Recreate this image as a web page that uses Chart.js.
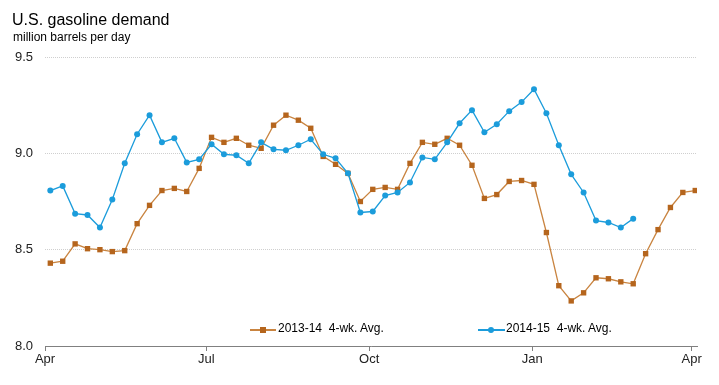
<!DOCTYPE html>
<html>
<head>
<meta charset="utf-8">
<script src="https://cdn.jsdelivr.net/npm/chart.js@4"></script>
<style>
body { margin: 0; background: #fff; font-family: "Liberation Sans", Arial, sans-serif; color: #000; }
#wrap { position: relative; width: 719px; height: 385px; }
#title { position: absolute; left: 12px; top: 12px; font-size: 16px; line-height: 16px; }
#sub { position: absolute; left: 13px; top: 31px; font-size: 12px; line-height: 12px; }
.leg { position: absolute; top: 322px; font-size: 12px; line-height: 12px; white-space: pre; }
.ln { position: absolute; height: 2px; top: 329px; }
.mk { position: absolute; }
</style>
</head>
<body>
<div id="wrap">
  <canvas id="chart"></canvas>
  <div id="title">U.S. gasoline demand</div>
  <div id="sub">million barrels per day</div>
  <div class="ln" style="left:250px;width:26px;background:#C98440"></div>
  <div class="mk" style="left:260px;top:327px;width:6px;height:6px;background:#B5651D"></div>
  <div class="leg" style="left:278px">2013-14  4-wk. Avg.</div>
  <div class="ln" style="left:478px;width:27px;background:#1B9CDB"></div>
  <div class="mk" style="left:488px;top:327px;width:6px;height:6px;border-radius:50%;background:#1B9CDB"></div>
  <div class="leg" style="left:506px">2014-15  4-wk. Avg.</div>
</div>
<script>
// days counted from April 1
const tickDays = [0, 91, 183, 275, 365];
const tickLabels = ["Apr", "Jul", "Oct", "Jan", "Apr"];

const avg1314 = [8.43, 8.44, 8.53, 8.505, 8.50, 8.49, 8.495, 8.635, 8.73, 8.807,
  8.818, 8.802, 8.922, 9.083, 9.057, 9.078, 9.042, 9.026, 9.146, 9.198,
  9.172, 9.13, 8.984, 8.943, 8.896, 8.75, 8.813, 8.823, 8.813, 8.948,
  9.057, 9.047, 9.078, 9.042, 8.938, 8.766, 8.786, 8.854, 8.859, 8.839,
  8.589, 8.313, 8.234, 8.276, 8.354, 8.349, 8.333, 8.323, 8.479, 8.604,
  8.719, 8.797, 8.807];

const avg1415 = [8.807, 8.831, 8.687, 8.68, 8.615, 8.76, 8.948, 9.099, 9.198, 9.057,
  9.078, 8.953, 8.969, 9.047, 8.995, 8.99, 8.948, 9.057, 9.021, 9.016,
  9.042, 9.073, 8.995, 8.974, 8.896, 8.693, 8.698, 8.781, 8.797, 8.849,
  8.979, 8.969, 9.057, 9.156, 9.224, 9.109, 9.151, 9.219, 9.266, 9.333,
  9.208, 9.042, 8.891, 8.797, 8.651, 8.641, 8.615, 8.661];

// weekly points, first week ending Apr 4
function toPoints(values) {
    return values.map((v, i) => ({ x: 3 + 7 * i, y: v }));
}

new Chart("chart", {
    type: "line",
    data: {
        datasets: [
            {
                label: "2013-14  4-wk. Avg.",
                data: toPoints(avg1314),
                borderColor: "#C98440",
                backgroundColor: "#B5651D",
                borderWidth: 1.3,
                pointStyle: "rect",
                pointRadius: 3.8,
                pointBorderWidth: 0,
                tension: 0,
                order: 2,
            },
            {
                label: "2014-15  4-wk. Avg.",
                data: toPoints(avg1415),
                borderColor: "#1B9CDB",
                backgroundColor: "#1B9CDB",
                borderWidth: 1.3,
                pointStyle: "circle",
                pointRadius: 3,
                pointBorderWidth: 0,
                tension: 0,
                order: 1,
            }
        ]
    },
    options: {
        responsive: true,
        maintainAspectRatio: false,
        animation: false,
        layout: { padding: { top: 57, right: 22, bottom: 0, left: 0 } },
        plugins: {
            legend: { display: false },
            tooltip: { enabled: false },
        },
        scales: {
            x: {
                type: "linear",
                min: 0,
                max: 368,
                afterBuildTicks: axis => {
                    axis.ticks = tickDays.map(v => ({ value: v }));
                },
                afterFit: scale => { scale.height = 39; },
                ticks: {
                    callback: (val, idx) => tickLabels[idx],
                    font: { family: "Liberation Sans", size: 13 },
                    color: "#222",
                    padding: 1,
                    maxRotation: 0,
                    autoSkip: false,
                },
                grid: {
                    drawOnChartArea: false,
                    drawTicks: true,
                    tickLength: 5,
                    color: "#808080",
                },
                border: { color: "#808080", width: 1 },
            },
            y: {
                min: 8.0,
                max: 9.5,
                afterFit: scale => { scale.width = 45; },
                ticks: {
                    stepSize: 0.5,
                    callback: val => val.toFixed(1),
                    font: { family: "Liberation Sans", size: 13 },
                    color: "#222",
                    padding: 12,
                },
                grid: {
                    drawTicks: false,
                    color: "#cfcfcf",
                },
                border: { display: false, dash: [1, 1] },
            }
        }
    }
});
</script>
</body>
</html>
